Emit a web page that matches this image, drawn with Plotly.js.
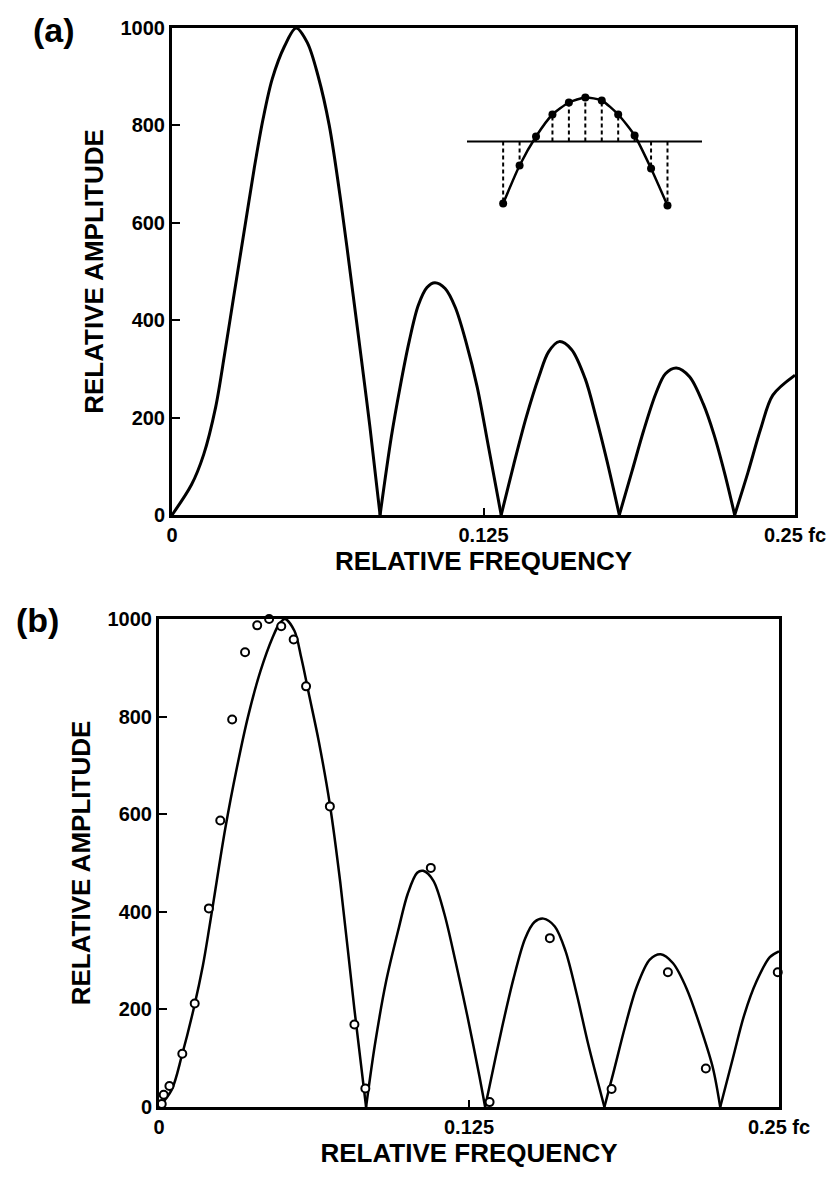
<!DOCTYPE html>
<html><head><meta charset="utf-8">
<script src="https://cdn.plot.ly/plotly-3.0.1.min.js"></script>
<style>html,body{margin:0;padding:0;background:#fff;} #chart{width:840px;height:1177px;}</style>
</head><body><div id="chart"></div>
<script>
// ---------- Panel (a): computed spectrum ----------
const freqA = [0, 0.0078, 0.0127, 0.0175, 0.0211, 0.0245, 0.0295, 0.0330, 0.0365, 0.0402, 0.0451, 0.0498, 0.0543, 0.0586, 0.0631, 0.0678, 0.0726, 0.0760, 0.0794, 0.0835,
  0.0880, 0.0915, 0.0952, 0.0988, 0.1023, 0.1055, 0.1096, 0.1137, 0.1181, 0.1225, 0.1270, 0.1321,
  0.1372, 0.1421, 0.1473, 0.1511, 0.1554, 0.1603, 0.1658, 0.1702, 0.1746, 0.1795,
  0.1846, 0.1893, 0.1942, 0.1980, 0.2024, 0.2077, 0.2132, 0.2175, 0.2218, 0.2258,
  0.2311, 0.2363, 0.2411, 0.2500];
const ampA = [0, 62, 124, 221, 330, 440, 600, 712, 812, 895, 962, 1000, 970, 902, 800, 642, 455, 320, 182, 0,
  160, 262, 357, 430, 467, 477, 465, 426, 353, 262, 140, 0,
  105, 200, 285, 335, 356, 340, 280, 200, 110, 0,
  90, 174, 250, 290, 302, 284, 228, 165, 85, 0,
  87, 178, 246, 287];

// ---------- Inset in panel (a): sampled waveform ----------
const insetIndex = [-5, -4, -3, -2, -1, 0, 1, 2, 3, 4, 5];
const insetValue = [-62, -24, 5, 27, 39, 44, 41, 27, 6, -27, -64];
const insetBaseline = [-7.2, 7.1];

// ---------- Panel (b): computed curve and measured points ----------
const freqB = [0, 0.0051, 0.0093, 0.0141, 0.0177, 0.0203, 0.0221, 0.0267, 0.0314, 0.0359, 0.0409, 0.0458, 0.0485, 0.0508, 0.0546, 0.0574, 0.0607, 0.0644, 0.0689, 0.0731, 0.0788, 0.0835,
  0.0871, 0.0916, 0.0967, 0.1003, 0.1041, 0.1065, 0.1106, 0.1150, 0.1197, 0.1244, 0.1292, 0.1315,
  0.1333, 0.1382, 0.1429, 0.1476, 0.1514, 0.1550, 0.1596, 0.1639, 0.1685, 0.1731, 0.1796,
  0.1832, 0.1879, 0.1926, 0.1979, 0.2023, 0.2072, 0.2128, 0.2190, 0.2234, 0.2263,
  0.2314, 0.2360, 0.2409, 0.2463, 0.2500];
const ampB = [0, 35, 107, 204, 290, 368, 425, 570, 695, 800, 893, 962, 990, 1000, 976, 920, 840, 750, 620, 460, 200, 0,
  129, 258, 367, 437, 480, 484, 464, 397, 295, 185, 63, 0,
  43, 160, 262, 345, 379, 386, 370, 320, 230, 128, 0,
  70, 164, 246, 302, 313, 295, 242, 153, 79, 0,
  100, 189, 257, 307, 319];

const measFreqB = [0.0011, 0.0019, 0.0042, 0.0094, 0.0144, 0.0201, 0.0247, 0.0295, 0.0347, 0.0396, 0.0444, 0.0493, 0.0543, 0.0593, 0.0689, 0.0788, 0.0832, 0.1096, 0.1333, 0.1576, 0.1825, 0.2052, 0.2205, 0.2495];
const measAmpB = [6, 25, 43, 109, 212, 407, 587, 794, 932, 987, 1000, 985, 958, 862, 616, 169, 38, 490, 10, 346, 37, 276, 79, 276];

// ---------- Axis labels ----------
const yTicks = [0, 200, 400, 600, 800, 1000];
const xTickVals = [0, 0.125, 0.25];
const xTickText = ['0', '0.125', '0.25 fc'];

// split the curve at interior zeros so each lobe is smoothed separately (cusps stay sharp)
function lobes(xs, ys) {
  const ox = [], oy = [];
  for (let i = 0; i < xs.length; i++) {
    ox.push(xs[i]); oy.push(ys[i]);
    if (ys[i] === 0 && i > 0 && i < xs.length - 1) { ox.push(null, xs[i]); oy.push(null, ys[i]); }
  }
  return {x: ox, y: oy};
}

const la = lobes(freqA, ampA);
const lb = lobes(freqB, ampB);

const dropX = [], dropY = [];
insetIndex.forEach((v, i) => { dropX.push(v, v, null); dropY.push(0, insetValue[i], null); });

const traces = [
  {x: la.x, y: la.y, xaxis: 'x', yaxis: 'y', mode: 'lines', line: {color: '#000', width: 3, shape: 'spline', smoothing: 0.9}, connectgaps: false, hoverinfo: 'skip'},
  {x: insetBaseline, y: [0, 0], xaxis: 'x3', yaxis: 'y3', mode: 'lines', line: {color: '#000', width: 2}, hoverinfo: 'skip'},
  {x: dropX, y: dropY, xaxis: 'x3', yaxis: 'y3', mode: 'lines', line: {color: '#000', width: 2, dash: '4px,3px'}, connectgaps: false, hoverinfo: 'skip'},
  {x: insetIndex, y: insetValue, xaxis: 'x3', yaxis: 'y3', mode: 'lines+markers', line: {color: '#000', width: 2.5, shape: 'spline', smoothing: 0.6}, marker: {color: '#000', size: 8}, cliponaxis: false},
  {x: lb.x, y: lb.y, xaxis: 'x2', yaxis: 'y2', mode: 'lines', line: {color: '#000', width: 2.5, shape: 'spline', smoothing: 0.9}, connectgaps: false, hoverinfo: 'skip'},
  {x: measFreqB, y: measAmpB, xaxis: 'x2', yaxis: 'y2', mode: 'markers', marker: {symbol: 'circle', size: 8, color: '#fff', line: {color: '#000', width: 2}}, cliponaxis: false}
];

const font = 'Liberation Sans, Arial, sans-serif';
function xAxis(domain, anchor) {
  return {domain: domain, anchor: anchor, range: [0, 0.25], tickvals: xTickVals, ticktext: xTickText,
    ticks: 'inside', ticklen: 7, tickwidth: 2, tickcolor: '#000', showline: true, linewidth: 3, linecolor: '#000', mirror: true,
    showgrid: false, zeroline: false, tickfont: {size: 20, family: font, color: '#000', weight: 'bold'},
    title: {text: 'RELATIVE FREQUENCY', font: {size: 26, family: font, color: '#000', weight: 'bold'}, standoff: 6}};
}
function yAxis(domain, anchor) {
  return {domain: domain, anchor: anchor, range: [0, 1000], tickvals: yTicks,
    ticks: 'inside', ticklen: 8, tickwidth: 2, tickcolor: '#000', showline: true, linewidth: 3, linecolor: '#000', mirror: true,
    showgrid: false, zeroline: false, tickfont: {size: 20, family: font, color: '#000', weight: 'bold'},
    title: {text: 'RELATIVE AMPLITUDE', font: {size: 26, family: font, color: '#000', weight: 'bold'}, standoff: 10}};
}

const layout = {
  width: 840, height: 1177,
  margin: {l: 0, r: 0, t: 0, b: 0},
  paper_bgcolor: '#fff', plot_bgcolor: 'rgba(0,0,0,0)',
  showlegend: false,
  font: {family: font, color: '#000'},
  xaxis: xAxis([172/840, 795/840], 'y'),
  yaxis: yAxis([1 - 515/1177, 1 - 28/1177], 'x'),
  xaxis2: xAxis([159/840, 779/840], 'y2'),
  yaxis2: yAxis([1 - 1107/1177, 1 - 619/1177], 'x2'),
  xaxis3: {domain: [467/840, 702/840], anchor: 'y3', range: [-7.2, 7.1], visible: false, fixedrange: true},
  yaxis3: {domain: [1 - 211.5/1177, 1 - 91.5/1177], anchor: 'x3', range: [-70, 50], visible: false, fixedrange: true},
  annotations: [
    {text: '(a)', xref: 'paper', yref: 'paper', x: 54/840, y: 1 - 30/1177, xanchor: 'center', yanchor: 'middle', showarrow: false, font: {size: 34, family: font, color: '#000', weight: 'bold'}},
    {text: '(b)', xref: 'paper', yref: 'paper', x: 37/840, y: 1 - 620/1177, xanchor: 'center', yanchor: 'middle', showarrow: false, font: {size: 34, family: font, color: '#000', weight: 'bold'}}
  ]
};

Plotly.newPlot('chart', traces, layout, {displayModeBar: false, staticPlot: true});
</script></body></html>
